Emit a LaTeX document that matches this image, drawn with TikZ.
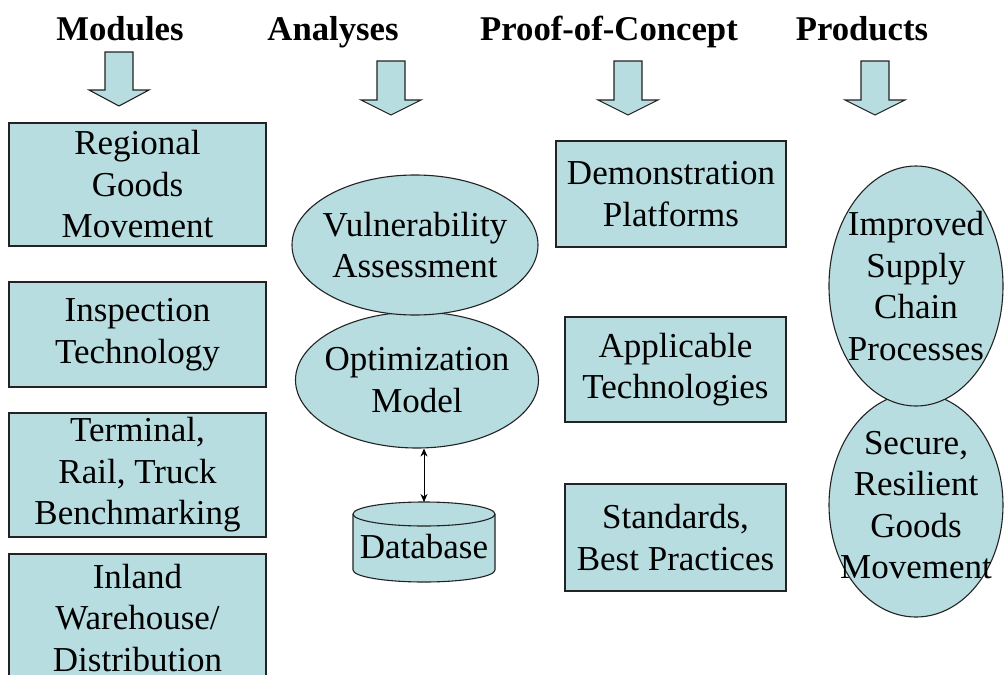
\documentclass[tikz,border=0pt]{standalone}
\usepackage{fontspec}
\setmainfont{Liberation Serif}
\usetikzlibrary{shapes.geometric,arrows.meta}
\definecolor{boxfill}{RGB}{183,221,224}
\definecolor{edgecol}{RGB}{35,35,35}
\newcommand{\bkarrow}[4]{\draw[barrow] (#1-14,#2) -- (#1+14,#2) -- (#1+14,#3) -- (#1+30,#3) -- (#1,#4) -- (#1-30,#3) -- (#1-14,#3) -- cycle;}
\begin{document}
\begin{tikzpicture}[x=1pt,y=-1pt,
  hdr/.style={font=\fontsize{34.7}{40}\selectfont\bfseries, anchor=base, inner sep=0},
  rbox/.style={draw=edgecol, fill=boxfill, line width=1.3pt, inner sep=0, align=center, font=\fontsize{35}{41.5}\selectfont},
  eshape/.style={draw=edgecol, fill=boxfill, line width=1.1pt, ellipse, inner sep=0},
  txt/.style={inner sep=0, align=center, font=\fontsize{35}{41.5}\selectfont},
  barrow/.style={draw=edgecol, fill=boxfill, line width=1.1pt, line join=miter},
  dbl/.style={{Stealth[length=8pt,width=7pt]}-{Stealth[length=8pt,width=7pt]}, line width=0.9pt}
]
\useasboundingbox (0,0) rectangle (1005,675);
\clip (0,0) rectangle (1005,675);
\fill[white] (0,0) rectangle (1005,675);

% headers
\node[hdr] (hmod) at (120,40) {Modules};
\node[hdr] (hana) at (333,40) {Analyses};
\node[hdr] (hpoc) at (609,40) {Proof-of-Concept};
\node[hdr] (hpro) at (862,40) {Products};

% block arrows
\bkarrow{119}{52}{90}{106}
\bkarrow{391}{61}{100}{115}
\bkarrow{628}{61}{100}{115}
\bkarrow{875}{61}{100}{115}

% modules
\node[rbox, minimum width=257pt, minimum height=123pt] (reg) at (137.5,184.5) {Regional\\Goods\\Movement};
\node[rbox, minimum width=257pt, minimum height=105pt] (insp) at (137.5,334.5) {Inspection\\Technology};
\node[rbox, minimum width=257pt, minimum height=124pt] (term) at (137.5,475) {Terminal,\\Rail, Truck\\Benchmarking};
\node[rbox, minimum width=257pt, minimum height=128pt] (inl) at (137.5,618) {Inland\\Warehouse/\\Distribution};

% analyses
\node[eshape, minimum width=243pt, minimum height=136pt] (opt) at (417,380) {};
\node[eshape, minimum width=246pt, minimum height=140pt] (vul) at (415,245) {};
\node[txt] (vult) at (vul) {Vulnerability\\Assessment};
\node[txt] (optt) at (opt) {Optimization\\Model};

% database cylinder
\draw[draw=edgecol, fill=boxfill, line width=1.1pt] (353,514) -- (353,570) arc[start angle=180, end angle=0, x radius=71, y radius=12] -- (495,514) arc[start angle=0, end angle=-180, x radius=71, y radius=12] -- cycle;
\draw[draw=edgecol, line width=1.1pt] (353,514) arc[start angle=180, end angle=0, x radius=71, y radius=12];
\node[txt] (db) at (424,547) {Database};
\coordinate (dbtop) at (424,502);
\draw[dbl] (opt.south -| dbtop) -- (dbtop);

% proof of concept
\node[rbox, minimum width=230pt, minimum height=106pt] (demo) at (671,194) {Demonstration\\Platforms};
\node[rbox, minimum width=221pt, minimum height=105pt] (appl) at (675.5,369.5) {Applicable\\Technologies};
\node[rbox, minimum width=221pt, minimum height=107pt] (std) at (675.5,537.5) {Standards,\\Best Practices};

% products
\node[eshape, minimum width=174pt, minimum height=224pt] (sec) at (916,505) {};
\node[eshape, minimum width=174pt, minimum height=240pt] (imp) at (916,286) {};
\node[txt] (impt) at (imp) {Improved\\Supply\\Chain\\Processes};
\node[txt] (sect) at (sec) {Secure,\\Resilient\\Goods\\Movement};
\end{tikzpicture}
\end{document}
